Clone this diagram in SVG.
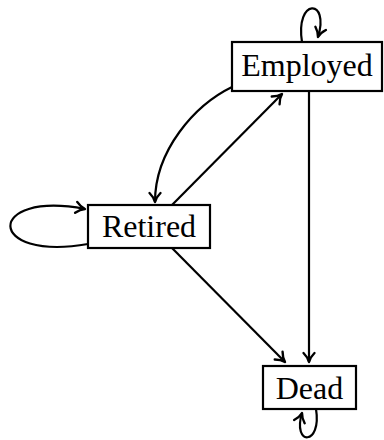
<svg xmlns="http://www.w3.org/2000/svg" width="384" height="440" viewBox="0 0 384 440">
<style>
.box{fill:#fff;stroke:#000;stroke-width:2.2}
.lbl{font-family:'Liberation Serif','DejaVu Serif',serif;font-size:32px;fill:#000;text-anchor:middle}
.edge{fill:none;stroke:#000;stroke-width:2.2;marker-end:url(#arr)}
</style>
<defs>
<marker id="arr" markerUnits="userSpaceOnUse" markerWidth="16" markerHeight="16" viewBox="-12 -8 14 16" refX="0" refY="0" orient="auto">
<path d="M-9,-5.5 C-5.5,-2 -2,-0.5 0,0 C-2,0.5 -5.5,2 -9,5.5" fill="none" stroke="#000" stroke-width="2.4" stroke-linecap="round" stroke-linejoin="round"/>
</marker>
</defs>
<g id="connectors">
<path class="edge" d="M309,91 L309,362"/>
<path class="edge" d="M172,248 L285,362"/>
<path class="edge" d="M172,205 L282,94"/>
<path class="edge" d="M232,87 C195,105 155,150 155,202"/>
<path class="edge" d="M88,244 C-15,262 -15,190 85,209"/>
<path class="edge" d="M302,42 C295,-2 330,-2 318,37"/>
<path class="edge" d="M316,409 C322,446 292,446 302,413"/>
</g>
<g id="employed">
<rect class="box" x="232" y="42" width="150" height="49"/>
<text class="lbl" x="307" y="76" font-family="Liberation Serif, serif">Employed</text>
</g>
<g id="retired">
<rect class="box" x="88" y="205" width="122" height="43"/>
<text class="lbl" x="149" y="237" font-family="Liberation Serif, serif">Retired</text>
</g>
<g id="dead">
<rect class="box" x="263" y="366" width="93" height="43"/>
<text class="lbl" x="309.5" y="399" font-family="Liberation Serif, serif">Dead</text>
</g>
</svg>
